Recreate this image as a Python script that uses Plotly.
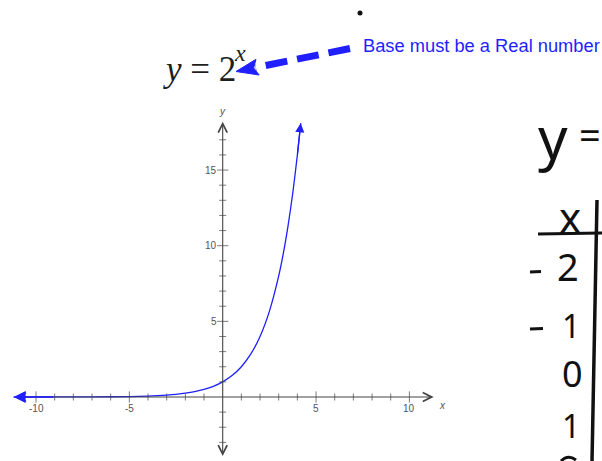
import plotly.graph_objects as go

# ---- data: table of y = 2^x used to trace the curve ----
curve_x = [-11.2, -9, -7, -5, -4, -3.5, -3, -2.5, -2, -1.5, -1, -0.5, 0,
           0.5, 1, 1.5, 2, 2.5, 3, 3.25, 3.5, 3.75, 4, 4.18]
curve_y = [0.0004, 0.002, 0.0078, 0.031, 0.0625, 0.088, 0.125, 0.177, 0.25,
           0.354, 0.5, 0.707, 1, 1.414, 2, 2.83, 4, 5.66, 8, 9.51, 11.31,
           13.45, 16, 18.1]

x_tick_vals = [-10, -9, -8, -7, -6, -5, -4, -3, -2, -1, 1, 2, 3, 4, 5, 6, 7, 8, 9, 10]
y_tick_vals = [-3, -2, -1, 1, 2, 3, 4, 5, 6, 7, 8, 9, 10, 11, 12, 13, 14, 15, 16, 17]
x_label_vals = [-10, -5, 5, 10]
x_label_text = ["-10", "-5", "5", "10"]
y_label_vals = [5, 10, 15]
y_label_text = ["5", "10", "15"]

x_axis_span = [-11.2, 11.3]
y_axis_span = [-4.0, 18.2]

# ---- page geometry ----
W, H = 602, 461
X0PX, XSCALE = 222.7, 18.67      # pixel of x=0, pixels per unit
Y0PX, YSCALE = 397.0, 15.13      # pixel of y=0, pixels per unit
x_range = [(0 - X0PX) / XSCALE, (W - X0PX) / XSCALE]
y_range = [(Y0PX - H) / YSCALE, Y0PX / YSCALE]


def px(xp):
    return xp / W


def py(yp):
    return 1 - yp / H


AXIS = "#444444"
BLUE = "#1f1fff"
TICKTXT = "#555555"
INK = "#111111"

fig = go.Figure()

# tick marks
fig.add_trace(go.Scatter(
    x=x_tick_vals, y=[0] * len(x_tick_vals), mode="markers",
    marker=dict(symbol="line-ns", size=[8 if v % 5 == 0 else 5 for v in x_tick_vals],
                line=dict(color=AXIS, width=1)),
    hoverinfo="skip"))
fig.add_trace(go.Scatter(
    x=[0] * len(y_tick_vals), y=y_tick_vals, mode="markers",
    marker=dict(symbol="line-ew", size=[8 if v % 5 == 0 else 5 for v in y_tick_vals],
                line=dict(color=AXIS, width=1)),
    hoverinfo="skip"))

# the curve
fig.add_trace(go.Scatter(
    x=curve_x, y=curve_y, mode="lines",
    line=dict(color=BLUE, width=1.3, shape="spline", smoothing=0.6),
    hoverinfo="skip"))

annotations = []

# axes with open arrowheads at both ends
annotations.append(dict(
    x=x_axis_span[1], y=0, ax=x_axis_span[0], ay=0,
    xref="x", yref="y", axref="x", ayref="y", text="", showarrow=True,
    arrowhead=5, startarrowhead=5, arrowside="end+start",
    arrowwidth=1.1, arrowsize=1.6, startarrowsize=1.6, arrowcolor=AXIS))
annotations.append(dict(
    x=0, y=y_axis_span[1], ax=0, ay=y_axis_span[0],
    xref="x", yref="y", axref="x", ayref="y", text="", showarrow=True,
    arrowhead=5, startarrowhead=5, arrowside="end+start",
    arrowwidth=1.1, arrowsize=1.6, startarrowsize=1.6, arrowcolor=AXIS))

# arrowheads on the ends of the curve
annotations.append(dict(
    x=curve_x[-1], y=curve_y[-1], ax=curve_x[-2], ay=curve_y[-2],
    xref="x", yref="y", axref="x", ayref="y", text="", showarrow=True,
    arrowhead=2, arrowwidth=1.3, arrowsize=1.4, arrowcolor=BLUE))
annotations.append(dict(
    x=curve_x[0], y=curve_y[0], ax=curve_x[1], ay=curve_y[1],
    xref="x", yref="y", axref="x", ayref="y", text="", showarrow=True,
    arrowhead=2, arrowwidth=1.6, arrowsize=1.5, arrowcolor=BLUE))

# tick labels
for v, t in zip(x_label_vals, x_label_text):
    annotations.append(dict(x=v, y=0, xref="x", yref="y", text=t, showarrow=False,
                            xanchor="center", yanchor="middle", yshift=-11,
                            font=dict(family="Arial", size=10, color=TICKTXT)))
for v, t in zip(y_label_vals, y_label_text):
    annotations.append(dict(x=0, y=v, xref="x", yref="y", text=t, showarrow=False,
                            xanchor="right", yanchor="middle", xshift=-4,
                            font=dict(family="Arial", size=10, color=TICKTXT)))

# axis names
annotations.append(dict(x=x_axis_span[1], y=0, xref="x", yref="y", text="<i>x</i>",
                        showarrow=False, xanchor="left", yanchor="middle",
                        xshift=3, yshift=-8,
                        font=dict(family="Arial", size=10, color=TICKTXT)))
annotations.append(dict(x=0, y=y_axis_span[1], xref="x", yref="y", text="<i>y</i>",
                        showarrow=False, xanchor="center", yanchor="bottom",
                        yshift=3,
                        font=dict(family="Arial", size=10, color=TICKTXT)))

# equation heading
SERIF = "Liberation Serif, Times New Roman, serif"
annotations.append(dict(x=px(161), y=py(70), xref="paper", yref="paper",
                        text="<i>y</i> = 2", showarrow=False,
                        xanchor="left", yanchor="middle",
                        font=dict(family=SERIF, size=35, color="#1e1e1e")))
annotations.append(dict(x=px(232), y=py(53), xref="paper", yref="paper",
                        text="<i>x</i>", showarrow=False,
                        xanchor="left", yanchor="middle",
                        font=dict(family=SERIF, size=24, color="#1e1e1e")))

# callout text
annotations.append(dict(x=px(361), y=py(45), xref="paper", yref="paper",
                        text="Base must be a Real number", showarrow=False,
                        xanchor="left", yanchor="middle",
                        font=dict(family="Arial", size=18.3, color=BLUE)))

# handwritten table on the right
HAND = "Noto Sans"
def hand(xc, yc, t, size):
    annotations.append(dict(x=px(xc), y=py(yc), xref="paper", yref="paper",
                            text=t, showarrow=False, xanchor="center",
                            yanchor="middle",
                            font=dict(family=HAND, size=size, color=INK)))

hand(553, 136, "y", 58)
hand(590, 134, "=", 38)
hand(570, 216, "x", 42)
hand(568, 266, "2", 38)
hand(571, 325, "1", 32)
hand(572, 373, "0", 36)
hand(571, 425, "1", 32)

shapes = []

# handwritten minus signs and the stroke of the next entry at the bottom edge
for x0, x1, yy in [(530, 541, 272), (530, 543, 329)]:
    shapes.append(dict(type="line", xref="paper", yref="paper",
                       x0=px(x0), y0=py(yy), x1=px(x1), y1=py(yy - 0.5),
                       line=dict(color=INK, width=3)))
shapes.append(dict(type="path", xref="paper", yref="paper",
                   path=(f"M{px(561)},{py(461)} Q{px(568)},{py(454)} "
                         f"{px(576)},{py(460)}"),
                   line=dict(color=INK, width=3)))

# dashed callout arrow
sx, sy = 350.0, 48.5
tx, ty = 236.0, 71.5
dx, dy = tx - sx, ty - sy
ln = (dx * dx + dy * dy) ** 0.5
ux, uy = dx / ln, dy / ln
head_len, head_half = 22.0, 8.0
bx, by = tx - ux * head_len, ty - uy * head_len
nx, ny = uy, -ux
shapes.append(dict(type="line", xref="paper", yref="paper",
                   x0=px(sx), y0=py(sy), x1=px(bx + ux * 2), y1=py(by + uy * 2),
                   line=dict(color=BLUE, width=7, dash="22px,10px")))
c1 = (bx + nx * head_half, by + ny * head_half)
c2 = (bx - nx * head_half, by - ny * head_half)
notch = (bx + ux * 4, by + uy * 4)
shapes.append(dict(
    type="path", xref="paper", yref="paper",
    path=(f"M{px(tx)},{py(ty)} L{px(c1[0])},{py(c1[1])} "
          f"L{px(notch[0])},{py(notch[1])} L{px(c2[0])},{py(c2[1])} Z"),
    fillcolor=BLUE, line=dict(color=BLUE, width=1)))

# dot at the top
shapes.append(dict(type="circle", xref="paper", yref="paper",
                   x0=px(357.5), y0=py(15.5), x1=px(362.5), y1=py(10.5),
                   fillcolor=INK, line=dict(color=INK, width=0)))

# handwritten table rules
shapes.append(dict(type="line", xref="paper", yref="paper",
                   x0=px(538), y0=py(234), x1=px(603), y1=py(233),
                   line=dict(color=INK, width=3)))
shapes.append(dict(type="path", xref="paper", yref="paper",
                   path=(f"M{px(597)},{py(200)} Q{px(595)},{py(330)} "
                         f"{px(592)},{py(462)}"),
                   line=dict(color=INK, width=3.5)))

fig.update_layout(
    width=W, height=H, margin=dict(l=0, r=0, t=0, b=0),
    paper_bgcolor="white", plot_bgcolor="white", showlegend=False,
    xaxis=dict(range=x_range, visible=False, fixedrange=True),
    yaxis=dict(range=y_range, visible=False, fixedrange=True),
    annotations=annotations, shapes=shapes,
)

fig.write_html("out.html")
